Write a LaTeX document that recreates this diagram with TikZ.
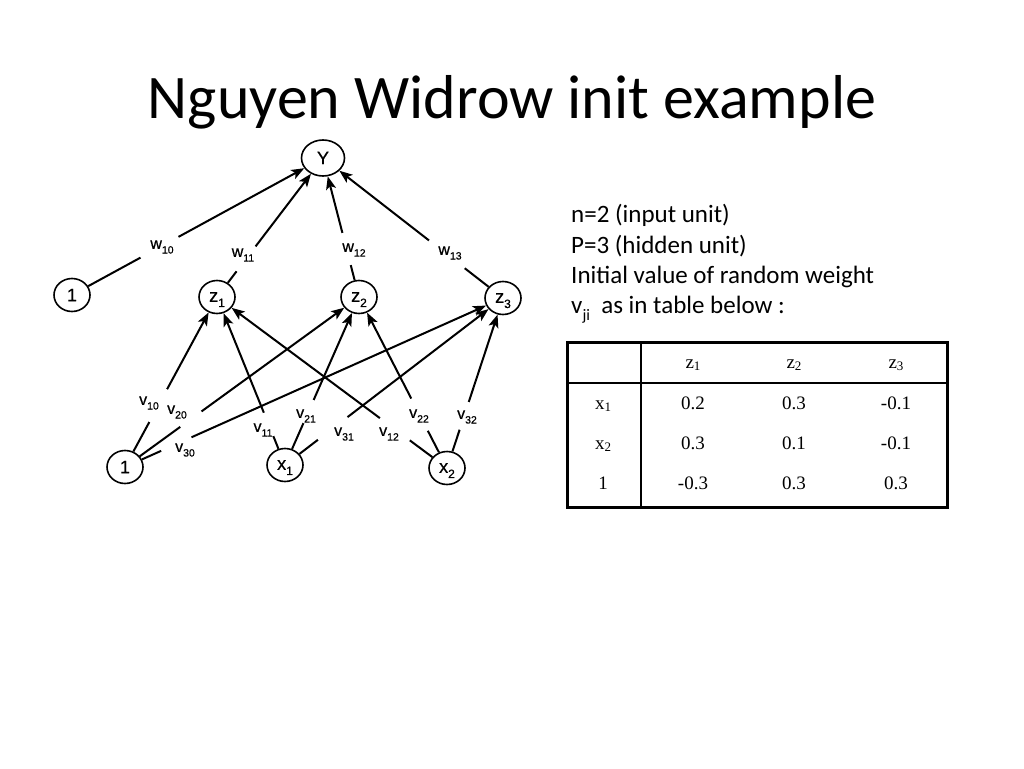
\documentclass[tikz,border=0pt]{standalone}
\usepackage{fontspec}
\newfontfamily\netfont[FakeBold=0.6]{Liberation Sans}
\newfontfamily\titlefont{Carlito}
\newfontfamily\tablefont{Liberation Serif}
\usetikzlibrary{shapes.geometric, arrows.meta, positioning}
\newcommand{\unitsub}[2]{#1\raisebox{-0.55ex}[0pt][0pt]{\fontsize{12}{13}\selectfont#2}}
\newcommand{\wtsub}[2]{#1\raisebox{-0.55ex}{\fontsize{10.5}{11}\selectfont#2}}
\newcommand{\tabsub}[2]{#1\raisebox{-0.3ex}{\fontsize{13}{14}\selectfont#2}}
\newcommand{\infosub}[2]{#1\raisebox{-0.6ex}{\fontsize{16}{18}\selectfont#2}}

\begin{document}
\begin{tikzpicture}[
    x=1pt, y=-1pt,
    neuron/.style={draw, ellipse, line width=1.6pt, minimum width=36pt, minimum height=33pt, inner sep=0pt, font=\netfont\fontsize{18}{19}\selectfont},
    arrow/.style={-{Stealth[length=13pt, width=10pt, inset=3pt]}, line width=2pt},
    gapbox/.style={fill=white, sloped, inner sep=0pt, minimum height=6pt, minimum width=#1},
    weight/.style={font=\netfont\fontsize{16}{17}\selectfont, inner sep=0pt},
    cell/.style={font=\tablefont\fontsize{19}{20}\selectfont, anchor=base, inner sep=0pt},
    info/.style={font=\titlefont\fontsize{25}{30}\selectfont, anchor=base west, inner sep=0pt}
]
    \useasboundingbox (0,0) rectangle (1024,768);

    % Title and notes
    \node[font=\titlefont\fontsize{62}{70}\selectfont, anchor=base] (title) at (512,118) {Nguyen Widrow init example};
    \node[info] (info1) at (571,222) {n=2 (input unit)};
    \node[info] (info2) at (571,253) {P=3 (hidden unit)};
    \node[info] (info3) at (571,283) {Initial value of random weight};
    \node[info] (info4) at (571,313) {\infosub{v}{ji}\ \ as in table below :};

    % Units
    \node[neuron, minimum width=43pt, minimum height=36pt] (Y) at (323,158) {Y};
    \node[neuron] (b0) at (72,295) {1};
    \node[neuron] (z1) at (217,297) {\unitsub{z}{1}};
    \node[neuron] (z2) at (359,297) {\unitsub{z}{2}};
    \node[neuron] (z3) at (503,298) {\unitsub{z}{3}};
    \node[neuron] (b1) at (125,467) {1};
    \node[neuron] (x1) at (285,465) {\unitsub{x}{1}};
    \node[neuron] (x2) at (447,468) {\unitsub{x}{2}};

    % Hidden to output
    \draw[arrow] (b0) -- node[gapbox=43pt, pos=.33] {} (Y);
    \draw[arrow] (z1) -- node[gapbox=31pt, pos=.22] {} (Y);
    \draw[arrow] (z2) -- node[gapbox=33pt, pos=.30] {} (Y);
    \draw[arrow] (z3) -- node[gapbox=45pt, pos=.28] {} (Y);

    % Input to hidden
    \draw[arrow] (b1) -- node[gapbox=37pt, pos=.33] {} (z1);
    \draw[arrow] (b1) -- node[gapbox=26pt, pos=.25] {} (z2);
    \draw[arrow] (b1) -- node[gapbox=33pt, pos=.10] {} (z3);
    \draw[arrow] (x1) -- node[gapbox=25pt, pos=.18] {} (z1);
    \draw[arrow] (x1) -- node[gapbox=25pt, pos=.275] {} (z2);
    \draw[arrow] (x1) -- node[gapbox=37pt, pos=.176] {} (z3);
    \draw[arrow] (x2) -- node[gapbox=37pt, pos=.187] {} (z1);
    \draw[arrow] (x2) -- node[gapbox=36pt, pos=.27] {} (z2);
    \draw[arrow] (x2) -- node[gapbox=29pt, pos=.26] {} (z3);

    % Weight labels
    \node[weight] (w10) at (162,247) {\wtsub{w}{10}};
    \node[weight] (w11) at (243,255) {\wtsub{w}{11}};
    \node[weight] (w12) at (354,250) {\wtsub{w}{12}};
    \node[weight] (w13) at (450,253) {\wtsub{w}{13}};
    \node[weight] (v10) at (149,403) {\wtsub{v}{10}};
    \node[weight] (v20) at (177,412) {\wtsub{v}{20}};
    \node[weight] (v30) at (185,450) {\wtsub{v}{30}};
    \node[weight] (v11) at (263,430) {\wtsub{v}{11}};
    \node[weight] (v21) at (306,416) {\wtsub{v}{21}};
    \node[weight] (v31) at (344,434) {\wtsub{v}{31}};
    \node[weight] (v12) at (389,434) {\wtsub{v}{12}};
    \node[weight] (v22) at (419,416) {\wtsub{v}{22}};
    \node[weight] (v32) at (467,417) {\wtsub{v}{32}};

    % Table of v_ji
    \draw[line width=3pt] (567,342) rectangle (947,507);
    \draw[line width=2pt] (567,383) -- (947,383);
    \draw[line width=2pt] (641,342) -- (641,507);
    \node[cell] (hz1) at (693,368) {\tabsub{z}{1}};
    \node[cell] (hz2) at (794,368) {\tabsub{z}{2}};
    \node[cell] (hz3) at (896,368) {\tabsub{z}{3}};
    \foreach \rowname/\ypos/\va/\vb/\vc [count=\r] in {{\tabsub{x}{1}}/409/0.2/0.3/-0.1, {\tabsub{x}{2}}/449/0.3/0.1/-0.1, 1/489/-0.3/0.3/0.3} {
        \node[cell] (row\r) at (603,\ypos) {\rowname};
        \node[cell] (c\r-1) at (693,\ypos) {\va};
        \node[cell] (c\r-2) at (794,\ypos) {\vb};
        \node[cell] (c\r-3) at (896,\ypos) {\vc};
    }
\end{tikzpicture}
\end{document}
